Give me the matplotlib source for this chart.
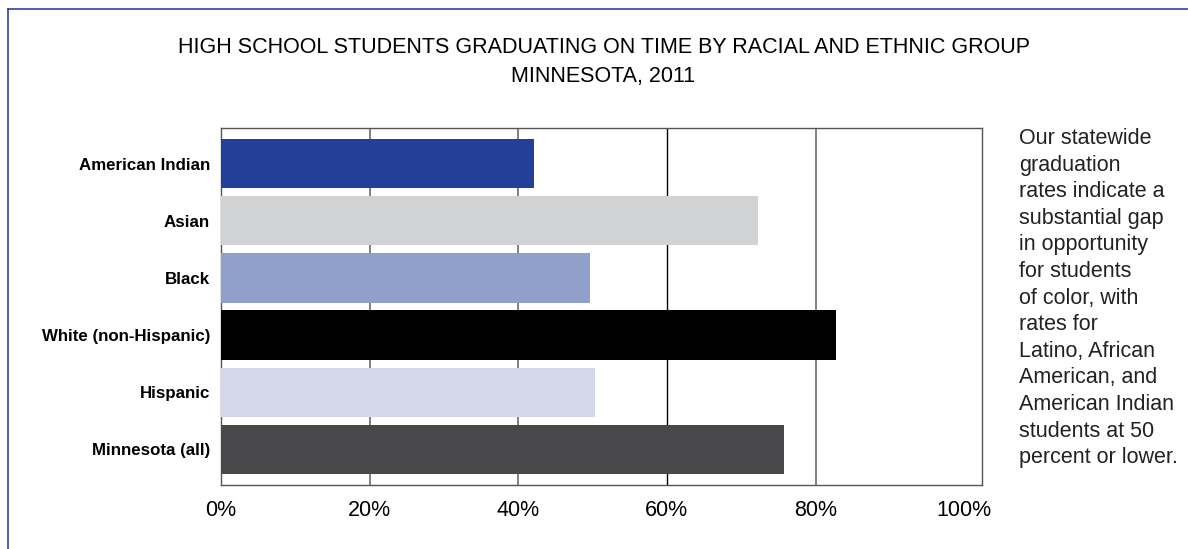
import matplotlib
matplotlib.use("Agg")
import matplotlib.pyplot as plt
from matplotlib.lines import Line2D

# Taux de diplomation à l'heure, Minnesota 2011 (%)
groupes = ["American Indian", "Asian", "Black", "White (non-Hispanic)",
           "Hispanic", "Minnesota (all)"]
taux = [42.1, 72.3, 49.7, 82.8, 50.3, 75.8]
couleurs = ["#233f97", "#d1d2d4", "#8fa0cb", "#000000", "#d3d8ea", "#48484a"]

graduations = [0, 20, 40, 60, 80, 100]
etiquettes_x = ["0%", "20%", "40%", "60%", "80%", "100%"]

texte_lateral = ("Our statewide\ngraduation\nrates indicate a\nsubstantial gap\n"
                 "in opportunity\nfor students\nof color, with\nrates for\n"
                 "Latino, African\nAmerican, and\nAmerican Indian\n"
                 "students at 50\npercent or lower.")

fig = plt.figure(figsize=(11.88, 5.49), dpi=100)
ax = fig.add_axes([221 / 1188, 1 - 485 / 549, 761 / 1188, 357 / 549])

y = list(range(len(groupes)))
ax.barh(y, taux, height=0.86, color=couleurs, zorder=3)

# lignes verticales de repère
for g in [20, 40, 80]:
    ax.axvline(g, color="#7f7f7f", linewidth=1.4, zorder=1)
ax.axvline(60, color="#000000", linewidth=1.0, zorder=1)

ax.set_xlim(0, 102.4)
ax.set_ylim(len(groupes) - 1 + 0.63, -0.63)
ax.set_xticks(graduations)
ax.set_xticklabels(etiquettes_x, fontsize=15.5, family="Liberation Sans")
ax.set_yticks(y)
ax.set_yticklabels(groupes, fontsize=12.2, fontweight="bold", family="Liberation Sans")
ax.tick_params(axis="x", length=0, pad=11)
ax.tick_params(axis="y", length=0, pad=8)
for s in ax.spines.values():
    s.set_color("#555555")
    s.set_linewidth(1.0)

fig.text(0.508, 0.913, "HIGH SCHOOL STUDENTS GRADUATING ON TIME BY RACIAL AND ETHNIC GROUP",
         ha="center", va="center", fontsize=15.5, family="Liberation Sans")
fig.text(0.508, 0.86, "MINNESOTA, 2011", ha="center", va="center",
         fontsize=15.5, family="Liberation Sans")

fig.text(1019 / 1188, 1 - 128 / 549, texte_lateral, ha="left", va="top",
         fontsize=15.5, family="Liberation Sans", linespacing=1.35, color="#222222")

# cadre bleu en haut et à gauche
bleu = "#2e45a0"
fig.add_artist(Line2D([8 / 1188, 1], [1 - 9 / 549, 1 - 9 / 549], color=bleu, linewidth=1.2))
fig.add_artist(Line2D([8 / 1188, 8 / 1188], [0, 1 - 9 / 549], color=bleu, linewidth=1.2))

fig.savefig("out.png", dpi=100)
